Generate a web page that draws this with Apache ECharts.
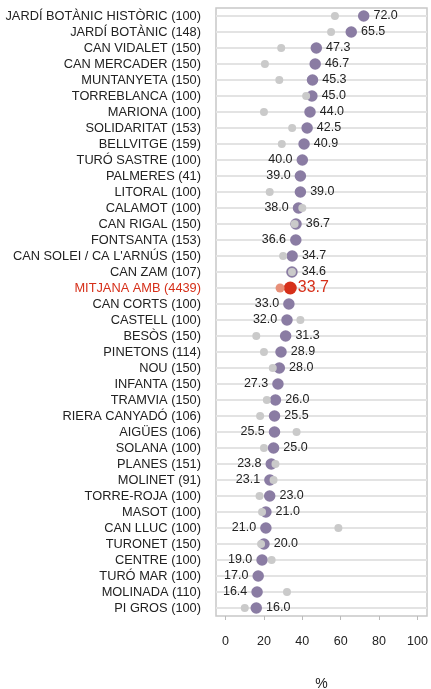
<!DOCTYPE html>
<html><head><meta charset="utf-8">
<script src="https://cdn.jsdelivr.net/npm/echarts@6/dist/echarts.min.js"></script>
<style>html,body{margin:0;padding:0;background:#fff}#c{width:431px;height:689px}</style>
</head><body><div id="c"></div>
<script>
const categories = [
"JARDÍ BOTÀNIC HISTÒRIC (100)","JARDÍ BOTÀNIC (148)","CAN VIDALET (150)","CAN MERCADER (150)",
"MUNTANYETA (150)","TORREBLANCA (100)","MARIONA (100)","SOLIDARITAT (153)","BELLVITGE (159)",
"TURÓ SASTRE (100)","PALMERES (41)","LITORAL (100)","CALAMOT (100)","CAN RIGAL (150)",
"FONTSANTA (153)","CAN SOLEI / CA L'ARNÚS (150)","CAN ZAM (107)","MITJANA AMB (4439)",
"CAN CORTS (100)","CASTELL (100)","BESÒS (150)","PINETONS (114)","NOU (150)","INFANTA (150)",
"TRAMVIA (150)","RIERA CANYADÓ (106)","AIGÜES (106)","SOLANA (100)","PLANES (151)",
"MOLINET (91)","TORRE-ROJA (100)","MASOT (100)","CAN LLUC (100)","TURONET (150)",
"CENTRE (100)","TURÓ MAR (100)","MOLINADA (110)","PI GROS (100)"];
const values = [72.0,65.5,47.3,46.7,45.3,45.0,44.0,42.5,40.9,40.0,39.0,39.0,38.0,36.7,36.6,34.7,34.6,33.7,
33.0,32.0,31.3,28.9,28.0,27.3,26.0,25.5,25.5,25.0,23.8,23.1,23.0,21.0,21.0,20.0,19.0,17.0,16.4,16.0];
const previous = [57,55,29,20.5,28,42,20,34.7,29.3,null,null,23,40,36,null,30,34.6,28.4,
null,39,16,20,24.6,null,21.5,18,37,20,26,25,17.7,19,58.8,18.5,24,null,32,10];
const xTicks = [0,20,40,60,80,100];
const highlightName = "MITJANA AMB (4439)";

const PURPLE = '#8a7ca3', GREY = '#cacaca', RED = '#d6301a', SALMON = '#e88f78';

const mainData = values.map((v,i)=>{
  const p = previous[i];
  const pos = (p === null || p > v) ? 'left' : 'right';
  const item = {value:[v, categories[i]], label:{position:pos}};
  if (categories[i] === highlightName) {
    item.symbolSize = 13;
    item.itemStyle = {color: RED};
    item.label = {position:'right', color: RED, fontSize: 16, distance: 1};
  }
  return item;
});
const prevData = previous.map((p,i)=>{
  if (p === null) return null;
  const item = {value:[p, categories[i]]};
  if (categories[i] === highlightName) { item.itemStyle = {color: SALMON}; item.symbolSize = 9; }
  return item;
}).filter(d=>d);

const chart = echarts.init(document.getElementById('c'), null, {renderer:'canvas'});
chart.setOption({
  animation:false,
  grid:{left:216, right:4, top:8, bottom:73, show:true, borderColor:'#c8c8c8', borderWidth:1.5,
    containLabel:false, outerBoundsMode:'none'},
  xAxis:{type:'value', min:-5, max:105,
    name:'%', nameLocation:'middle', nameGap:61,
    nameTextStyle:{fontFamily:'Liberation Sans', fontSize:14, color:'#222'},
    axisLine:{show:false}, splitLine:{show:false},
    axisTick:{show:true, length:4, customValues:xTicks, lineStyle:{color:'#bbb'}},
    axisLabel:{customValues:xTicks, margin:19, fontFamily:'Liberation Sans', fontSize:12.5, color:'#222'}
  },
  yAxis:{type:'category', data:categories, inverse:true,
    axisLine:{show:false}, axisTick:{show:false}, splitLine:{show:false},
    axisLabel:{interval:0, margin:15, fontFamily:'Liberation Sans', fontSize:12.8,
      color:(v)=> v===highlightName ? RED : '#222'}
  },
  series:[
    {type:'scatter', name:'main', data:mainData, symbolSize:11.5, z:3,
      itemStyle:{color:PURPLE, opacity:1},
      label:{show:true, fontFamily:'Liberation Sans', fontSize:12.5, color:'#222', distance:4,
        formatter:(p)=>p.value[0].toFixed(1)},
      markLine:{silent:true, symbol:'none', z:1,
        lineStyle:{color:'#e3e3e3', width:2, type:'solid'},
        label:{show:false},
        data:categories.map(c=>({yAxis:c}))}
    },
    {type:'scatter', name:'prev', data:prevData, symbolSize:8, z:4,
      itemStyle:{color:GREY, opacity:1}}
  ]
});
</script></body></html>
